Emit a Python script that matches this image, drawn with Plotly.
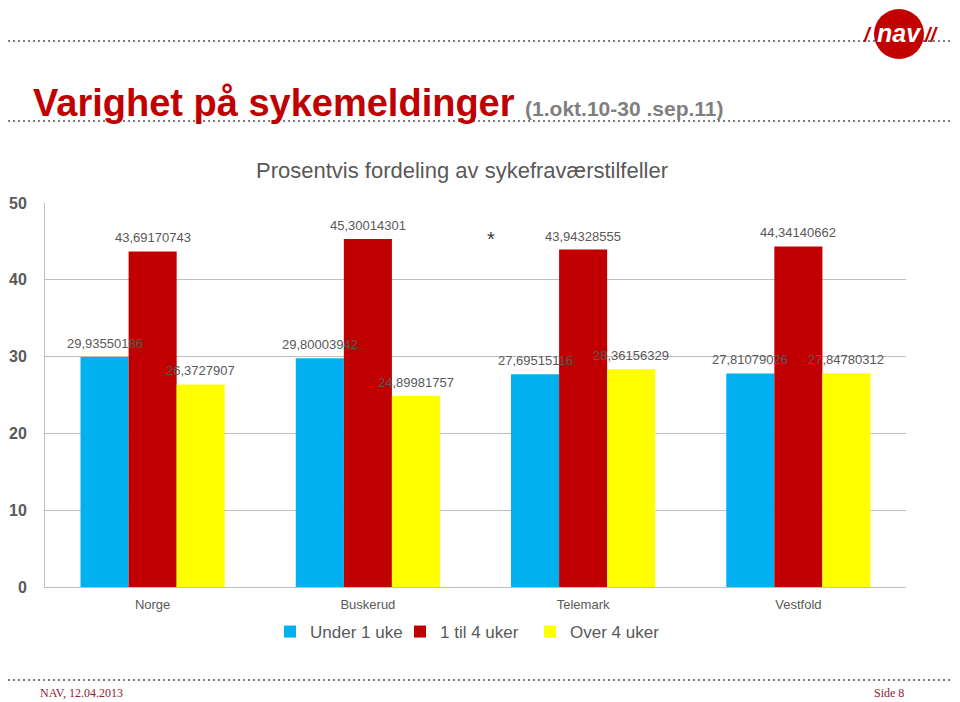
import plotly.graph_objects as go

# data
regions = ["Norge", "Buskerud", "Telemark", "Vestfold"]
under_1_uke = [29.93550186, 29.80003942, 27.69515116, 27.81079026]
til_4_uker = [43.69170743, 45.30014301, 43.94328555, 44.34140662]
over_4_uker = [26.3727907, 24.89981757, 28.36156329, 27.84780312]
series_names = ["Under 1 uke", "1 til 4 uker", "Over 4 uker"]
y_ticks = [0, 10, 20, 30, 40, 50]

colors = ["#00B0F0", "#C00000", "#FFFF00"]
grey_text = "#595959"

# the page body has an 8px margin, so the figure starts at page (8, 8)
OFF = 8
W, H = 960 - OFF, 702 - OFF
# plot area in page pixels
L, R, T, B = 45, 906, 203, 587
BARGAP = 0.33


def px_x(x):
    return (x - L) / (R - L)


def px_y(y):
    return (B - y) / (B - T)


def fmt(v):
    return str(v).replace(".", ",")


series = [under_1_uke, til_4_uker, over_4_uker]

fig = go.Figure()
for name, vals, col in zip(series_names, series, colors):
    fig.add_trace(go.Bar(
        name=name,
        x=regions,
        y=vals,
        marker_color=col,
        marker_line_width=0,
        hovertemplate="<b>%{x}</b><br>" + name + ": %{y}<extra></extra>",
    ))

fig.update_layout(
    width=W,
    height=H,
    margin=dict(l=L - OFF, r=W + OFF - R, t=T - OFF, b=H + OFF - B, autoexpand=False),
    paper_bgcolor="white",
    plot_bgcolor="white",
    barmode="group",
    bargap=BARGAP,
    bargroupgap=0,
    font=dict(family="Liberation Sans, Arial", color=grey_text),
    showlegend=True,
    legend=dict(
        orientation="h",
        x=px_x(270),
        xanchor="left",
        yref="container",
        y=1 - (632 - OFF) / H,
        yanchor="middle",
        font=dict(size=17, color=grey_text),
        itemwidth=30,
        entrywidth=85,
        tracegroupgap=0,
    ),
)

fig.update_yaxes(
    range=[0, 50],
    tickvals=y_ticks,
    showgrid=True,
    gridcolor="#BFBFBF",
    gridwidth=1,
    showline=True,
    linecolor="#BFBFBF",
    linewidth=1,
    zeroline=False,
    ticks="",
    automargin=False,
    ticklabelstandoff=14,
    tickfont=dict(size=16, color=grey_text, family="Liberation Sans, Arial", weight="bold"),
)
fig.update_xaxes(
    showline=True,
    linecolor="#BFBFBF",
    linewidth=1,
    ticks="",
    automargin=False,
    ticklabelstandoff=5,
    tickfont=dict(size=13, color=grey_text),
)

# value labels above each bar, drawn on top of all bars
bar_px = (R - L) / len(regions) * (1 - BARGAP) / len(series)
annotations = []
for i, vals in enumerate(series):
    shift = (i - (len(series) - 1) / 2) * bar_px
    for reg, v in zip(regions, vals):
        annotations.append(dict(
            text=fmt(v), x=reg, y=v, xref="x", yref="y",
            xanchor="center", yanchor="bottom", xshift=shift, yshift=4,
            showarrow=False,
            font=dict(size=13, color=grey_text, family="Liberation Sans, Arial"),
        ))

paper_annotations = [
    # main title
    dict(
        text="<b>Varighet på sykemeldinger</b> "
             "<span style='font-size:21px;color:#7F7F7F'><b>(1.okt.10-30 .sep.11)</b></span>",
        x=px_x(31), y=px_y(103), xanchor="left", yanchor="middle",
        font=dict(size=38, color="#C00000", family="Liberation Sans Narrow, Arial Narrow, Liberation Sans"),
    ),
    # chart title
    dict(
        text="Prosentvis fordeling av sykefraværstilfeller",
        x=px_x(462), y=px_y(170), xanchor="center", yanchor="middle",
        font=dict(size=22, color=grey_text),
    ),
    # asterisk
    dict(
        text="*", x=px_x(491), y=px_y(239), xanchor="center", yanchor="middle",
        font=dict(size=20, color="#404040"),
    ),
    # footer
    dict(
        text="NAV, 12.04.2013", x=px_x(38), y=px_y(693), xanchor="left", yanchor="middle",
        font=dict(size=12, color="#8B2232", family="Liberation Serif, Times New Roman"),
    ),
    dict(
        text="Side 8", x=px_x(906), y=px_y(693), xanchor="right", yanchor="middle",
        font=dict(size=12, color="#8B2232", family="Liberation Serif, Times New Roman"),
    ),
    # logo text
    dict(
        text="<b><i>nav</i></b>", x=px_x(899), y=px_y(33), xanchor="center", yanchor="middle",
        font=dict(size=25, color="white", family="Liberation Sans, Arial"),
    ),
    dict(
        text="<b><i>/</i></b>", x=px_x(867), y=px_y(35), xanchor="center", yanchor="middle",
        font=dict(size=20, color="#C30000", family="Liberation Sans, Arial"),
    ),
    dict(
        text="<b><i>//</i></b>", x=px_x(931), y=px_y(35), xanchor="center", yanchor="middle",
        font=dict(size=20, color="#C30000", family="Liberation Sans, Arial"),
    ),
]
for a in paper_annotations:
    a.update(xref="paper", yref="paper", showarrow=False)
fig.update_layout(annotations=annotations + paper_annotations)

dot_line = dict(color="#7F7F7F", width=2, dash="2px,3px")
shapes = [
    dict(type="line", x0=px_x(OFF), x1=px_x(960), y0=px_y(41), y1=px_y(41), line=dot_line, layer="below"),
    dict(type="line", x0=px_x(OFF), x1=px_x(960), y0=px_y(121), y1=px_y(121), line=dot_line, layer="below"),
    dict(type="line", x0=px_x(OFF), x1=px_x(960), y0=px_y(680), y1=px_y(680), line=dot_line, layer="below"),
    # logo disc
    dict(type="circle", x0=px_x(874), x1=px_x(924), y0=px_y(9), y1=px_y(59),
         fillcolor="#C30000", line=dict(width=0), layer="above"),
]
for s in shapes:
    s.update(xref="paper", yref="paper")
fig.update_layout(shapes=shapes)

fig.write_html("out.html")
